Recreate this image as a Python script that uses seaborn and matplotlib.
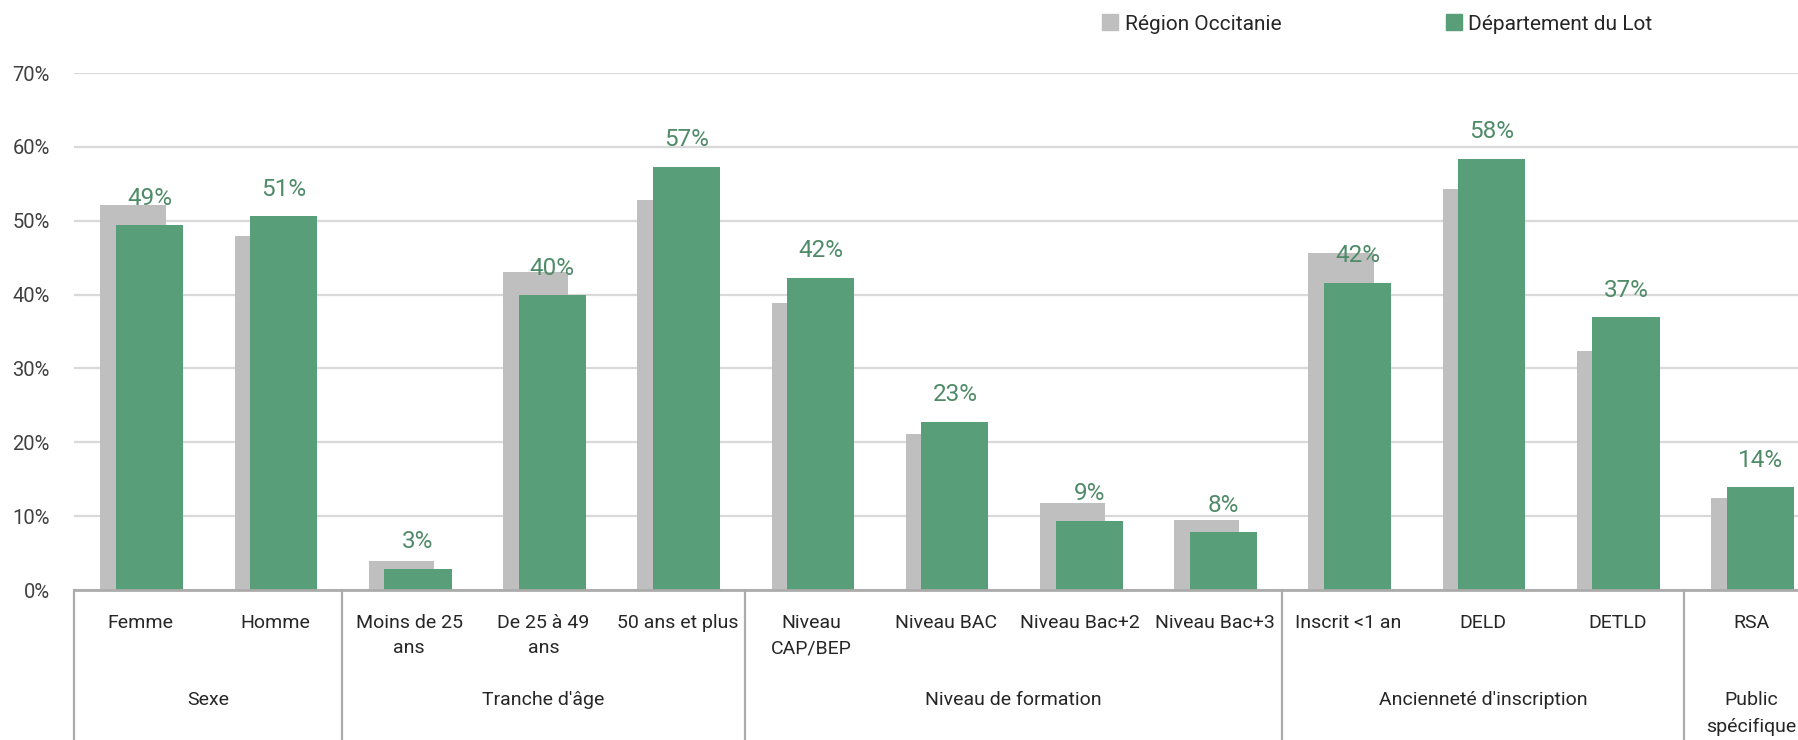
import numpy as np
import pandas as pd
import matplotlib
matplotlib.use("Agg")
import matplotlib.pyplot as plt
import seaborn as sns
from matplotlib.patches import Patch

# data
categories = ["Femme", "Homme", "Moins de 25\nans", "De 25 à 49\nans", "50 ans et plus",
              "Niveau\nCAP/BEP", "Niveau BAC", "Niveau Bac+2", "Niveau Bac+3",
              "Inscrit <1 an", "DELD", "DETLD", "RSA"]
groups = ["Sexe", "Tranche d'âge", "Niveau de formation", "Ancienneté d'inscription", "Public\nspécifique"]
group_sizes = [2, 3, 4, 3, 1]
region = [0.521, 0.479, 0.039, 0.431, 0.528, 0.389, 0.211, 0.118, 0.095, 0.456, 0.543, 0.324, 0.124]
lot = [0.494, 0.506, 0.029, 0.399, 0.573, 0.423, 0.228, 0.094, 0.078, 0.416, 0.584, 0.369, 0.139]
lot_labels = ["49%", "51%", "3%", "40%", "57%", "42%", "23%", "9%", "8%", "42%", "58%", "37%", "14%"]

GREEN = "#589E78"
GREY = "#BFBFBF"
LABEL_GREEN = "#4F8B68"
TXT = "#262626"

sns.set_theme(style="white")
plt.rcParams["font.family"] = ["Roboto", "DejaVu Sans"]

pos = np.arange(len(categories))
df = pd.DataFrame({"pos": pos, "region": region, "lot": lot})

fig = plt.figure(figsize=(17.99, 7.40), dpi=100)
ax = fig.add_axes([0.0409, 0.2027, 0.9591, 0.6986])

sns.barplot(x=df["pos"] - 0.057, y=df["region"], native_scale=True, width=0.485,
            color=GREY, saturation=1, linewidth=0, ax=ax, zorder=2)
sns.barplot(x=df["pos"] + 0.066, y=df["lot"], native_scale=True, width=0.5,
            color=GREEN, saturation=1, linewidth=0, ax=ax, zorder=3)

for x, v, t in zip(pos, lot, lot_labels):
    ax.text(x + 0.066, v + 0.021, t, ha="center", va="bottom", color=LABEL_GREEN, fontsize=17.5)

ax.set_xlim(-0.5, 12.355)
ax.set_ylim(0, 0.70)
yt = np.arange(0, 0.71, 0.1)
ax.set_yticks(yt)
ax.set_yticklabels([f"{int(round(v * 100))}%" for v in yt], fontsize=14.5, color="#404040")
ax.tick_params(axis="y", length=0, pad=17)
ax.yaxis.grid(True, color="#D9D9D9", linewidth=1.6, zorder=0)
ax.set_axisbelow(True)
ax.set_xlabel("")
ax.set_ylabel("")

ax.set_xticks(pos)
ax.set_xticklabels(categories, fontsize=14, color=TXT, linespacing=1.55, va="top")
ax.tick_params(axis="x", length=0, pad=17)

for side in ["top", "right", "left"]:
    ax.spines[side].set_visible(False)
ax.spines["bottom"].set_color("#ABABAB")
ax.spines["bottom"].set_linewidth(2)
ax.spines["bottom"].set_zorder(4)

# group separators and group labels
trans = ax.get_xaxis_transform()
edges = np.concatenate([[0], np.cumsum(group_sizes)]) - 0.5
for e in edges[:-1]:
    ax.plot([e, e], [0, -0.30], transform=trans, color="#ABABAB", linewidth=1.6, clip_on=False)
for name, a, b in zip(groups, edges[:-1], edges[1:]):
    ax.text((a + b) / 2, -0.196, name, transform=trans, ha="center", va="top",
            fontsize=14, color=TXT, linespacing=1.6)

# legend
handles = [Patch(color=GREY, label="Région Occitanie"), Patch(color=GREEN, label="Département du Lot")]
fig.legend(handles=handles, loc="center left", bbox_to_anchor=(0.6126, 0.9676), ncol=2, frameon=False,
           fontsize=15, handlelength=0.78, handleheight=0.78, handletextpad=0.3, columnspacing=7.9,
           borderpad=0, borderaxespad=0, labelcolor=TXT)

fig.savefig("out.png", dpi=100)
